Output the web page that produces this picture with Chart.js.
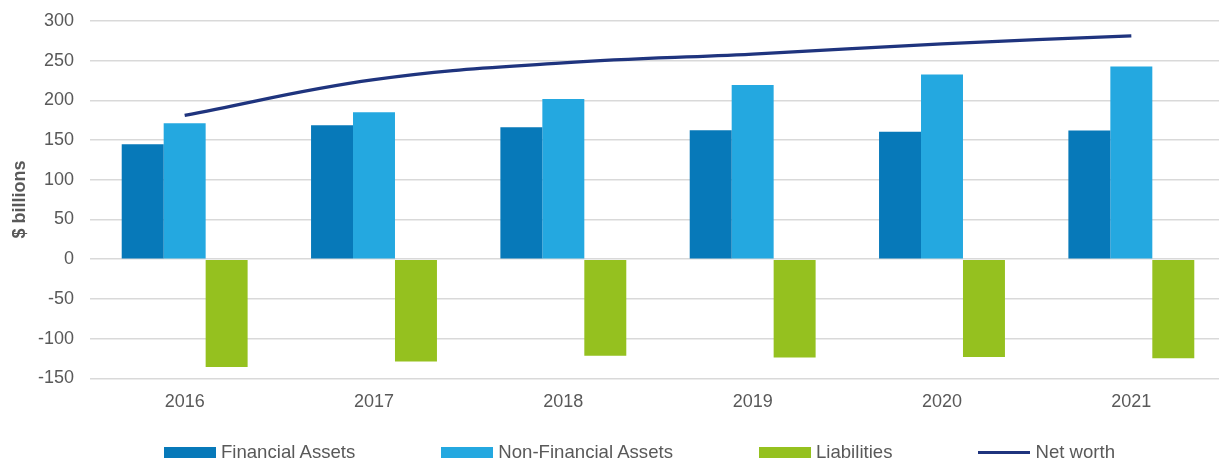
<!DOCTYPE html>
<html>
<head>
<meta charset="utf-8">
<script src="https://cdn.jsdelivr.net/npm/chart.js@4"></script>
<style>
  html, body { margin: 0; padding: 0; background: #fff; overflow: hidden; }
  #wrap { position: relative; width: 1219px; height: 459px; overflow: hidden; }
  #box { position: absolute; left: 0; top: -6px; width: 1226px; height: 465px; }
  #legend { position: absolute; left: 30px; width: 1219px; top: 441px; display: flex; justify-content: center;
    font-family: "Liberation Sans", Arial, sans-serif; font-size: 18.6px; color: #595959; }
  .item { display: flex; align-items: center; margin: 0 43px; white-space: nowrap; }
  .sw { width: 52px; height: 11px; margin-right: 5px; }
  .ln { width: 52px; height: 3px; margin-right: 5px; }
</style>
</head>
<body>
<div id="wrap">
  <div id="box"><canvas id="chart"></canvas></div>
  <div id="legend"></div>
</div>
<script>
const years = ['2016', '2017', '2018', '2019', '2020', '2021'];
const financialAssets = [144.7, 168.5, 166, 162.2, 160.3, 162];
const nonFinancialAssets = [171.2, 184.8, 201.6, 219.2, 232.5, 242.5];
const liabilities = [-135.5, -128.7, -121.5, -123.6, -123, -124.6];
const netWorth = [181, 226, 247, 258, 271, 281];

const colFA = '#0779b9';
const colNFA = '#24a8e0';
const colLiab = '#95c11f';
const colNet = '#1f347e';

const font = { family: '"Liberation Sans", Arial, sans-serif', size: 18 };

const ctx = document.getElementById('chart').getContext('2d');
const chart = new Chart(ctx, {
  type: 'bar',
  data: {
    labels: years,
    datasets: [
      { label: 'Financial Assets', data: financialAssets, backgroundColor: colFA, order: 1 },
      { label: 'Non-Financial Assets', data: nonFinancialAssets, backgroundColor: colNFA, order: 1 },
      { label: 'Liabilities', data: liabilities, backgroundColor: colLiab, order: 1 },
      { type: 'line', label: 'Net worth', data: netWorth, borderColor: colNet, backgroundColor: colNet,
        borderWidth: 3.2, pointRadius: 0, tension: 0.4, fill: false, order: 0 }
    ]
  },
  options: {
    responsive: true,
    maintainAspectRatio: false,
    animation: false,
    layout: { padding: { top: 15, right: 0, bottom: 33, left: 0 } },
    datasets: { bar: { barPercentage: 1, categoryPercentage: 0.665 } },
    plugins: { legend: { display: false }, tooltip: { enabled: false } },
    scales: {
      x: {
        grid: { display: false, drawTicks: false },
        border: { display: false },
        ticks: { font: font, color: '#595959', padding: 13 }
      },
      y: {
        min: -150,
        max: 300,
        afterFit: s => { s.width = 90; },
        grid: { color: '#d9d9d9', lineWidth: 1.5, drawTicks: false },
        border: { display: false },
        ticks: { stepSize: 50, font: font, color: '#595959', padding: 16 },
        title: { display: true, text: '$ billions', color: '#595959',
          font: { family: font.family, size: 18, weight: 'bold' }, padding: { top: 9, bottom: 4 } }
      }
    }
  }
});

// legend as html, same order as the datasets
const legend = document.getElementById('legend');
chart.data.datasets.forEach(ds => {
  const item = document.createElement('div');
  item.className = 'item';
  const mark = document.createElement('div');
  mark.className = ds.type === 'line' ? 'ln' : 'sw';
  mark.style.background = ds.type === 'line' ? ds.borderColor : ds.backgroundColor;
  item.appendChild(mark);
  item.appendChild(document.createTextNode(ds.label));
  legend.appendChild(item);
});
</script>
</body>
</html>
